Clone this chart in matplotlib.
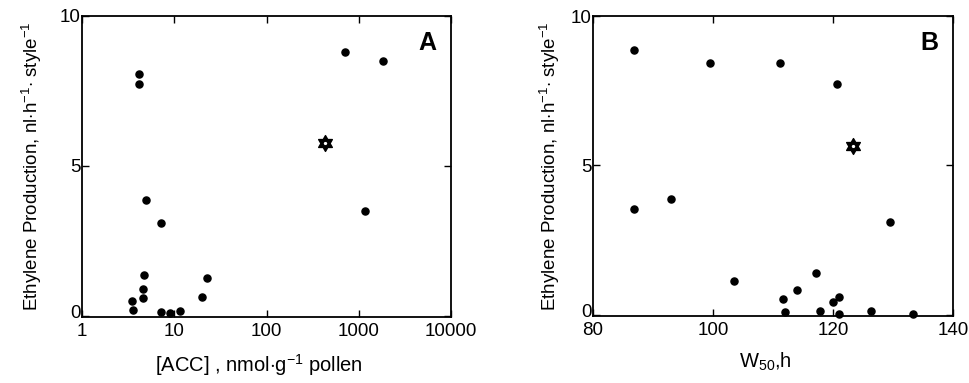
import numpy as np
import matplotlib
matplotlib.use("Agg")
import matplotlib.pyplot as plt
from matplotlib.path import Path
from matplotlib.transforms import ScaledTranslation

plt.rcParams['font.family'] = ['Liberation Sans', 'DejaVu Sans']
plt.rcParams['mathtext.fontset'] = 'custom'
plt.rcParams['mathtext.rm'] = 'Liberation Sans'
plt.rcParams['mathtext.it'] = 'Liberation Sans'

# Panel A: ACC content vs ethylene production
acc_x = [4.18, 4.15, 4.94, 7.13, 4.74, 4.55, 4.6, 3.48, 3.54, 7.13, 9.06, 11.6, 19.8, 22.4, 716, 1832, 1169]
acc_y = [8.08, 7.74, 3.86, 3.08, 1.36, 0.87, 0.57, 0.50, 0.19, 0.11, 0.07, 0.14, 0.62, 1.26, 8.81, 8.49, 3.48]
acc_star_x = [431]
acc_star_y = [5.77]

# Panel B: W50 vs ethylene production
w50_x = [86.8, 86.8, 93.0, 99.5, 111.2, 120.7, 103.5, 117.2, 114.0, 111.7, 120.0, 121.0, 112.0, 117.9, 121.0, 126.3, 129.5, 133.3]
w50_y = [8.85, 3.52, 3.88, 8.44, 8.43, 7.73, 1.11, 1.40, 0.83, 0.51, 0.43, 0.59, 0.07, 0.11, 0.03, 0.13, 3.10, 0.03]
w50_star_x = [123.3]
w50_star_y = [5.63]

a_xticks = [1, 10, 100, 1000, 10000]
a_xticklabels = ['1', '10', '100', '1000', '10000']
b_xticks = [80, 100, 120, 140]
y_ticks = [0, 5, 10]

# hexagram marker with hollow centre
def hexagram():
    outer = []
    for i in range(12):
        ang = np.pi / 2 + i * np.pi / 6
        r = 1.0 if i % 2 == 0 else 0.577
        outer.append((r * np.cos(ang), r * np.sin(ang)))
    inner = []
    for i in range(6):
        ang = np.pi / 2 + np.pi / 6 + i * np.pi / 3
        inner.append((0.33 * np.cos(ang), 0.33 * np.sin(ang)))
    inner = inner[::-1]
    verts = outer + [outer[0]] + inner + [inner[0]]
    codes = [Path.MOVETO] + [Path.LINETO] * 11 + [Path.CLOSEPOLY] + \
            [Path.MOVETO] + [Path.LINETO] * 5 + [Path.CLOSEPOLY]
    return Path(verts, codes)

star = hexagram()

fig = plt.figure(figsize=(9.70, 3.83), dpi=100)
axA = fig.add_axes([82/970, 66/383, 369/970, 301/383])
axB = fig.add_axes([593/970, 67/383, 360/970, 300/383])

ylabel = 'Ethylene Production, nl$\\cdot$h$^{-1}$$\\cdot$ style$^{-1}$'

for ax in (axA, axB):
    ax.set_ylim(-0.05, 10)
    ax.set_yticks(y_ticks)
    ax.tick_params(direction='in', length=5, width=1, labelsize=13.5,
                   top=True, right=True, colors='black')
    ax.tick_params(axis='y', pad=1)
    ax.tick_params(axis='x', pad=4)
    for sp in ax.spines.values():
        sp.set_linewidth(1.3)
    ax.minorticks_off()

axA.set_xscale('log')
axA.set_xlim(1, 10000)
axA.set_xticks(a_xticks)
axA.set_xticklabels(a_xticklabels)
axA.minorticks_off()
axA.scatter(acc_x, acc_y, s=26, color='black', zorder=3, clip_on=False)
axA.scatter(acc_star_x, acc_star_y, s=130, marker=star, color='black', zorder=3)
axA.set_xlabel(r'[ACC] , nmol$\cdot$g$^{-1}$ pollen', fontsize=14.5)
axA.xaxis.set_label_coords(0.48, -0.115)
axA.set_ylabel(ylabel, fontsize=13.5)
axA.yaxis.set_label_coords(-0.104, 0.5)
axA.text(0.96, 0.91, 'A', transform=axA.transAxes, ha='right', va='center',
         fontsize=18, fontweight='bold')

axB.set_xlim(80, 140)
axB.set_xticks(b_xticks)
axB.scatter(w50_x, w50_y, s=26, color='black', zorder=3, clip_on=False)
axB.scatter(w50_star_x, w50_star_y, s=130, marker=star, color='black', zorder=3)
axB.set_xlabel(r'W$_{50}$,h', fontsize=14.5)
axB.xaxis.set_label_coords(0.48, -0.115)
axB.set_ylabel(ylabel, fontsize=13.5)
axB.yaxis.set_label_coords(-0.086, 0.5)
axB.text(0.96, 0.91, 'B', transform=axB.transAxes, ha='right', va='center',
         fontsize=18, fontweight='bold')

# lift the "0" y tick label slightly, as in the reference
for ax in (axA, axB):
    lbl = ax.get_yticklabels()[0]
    lbl.set_transform(lbl.get_transform() + ScaledTranslation(0, 4/100, fig.dpi_scale_trans))

fig.savefig('out.png', dpi=100)
